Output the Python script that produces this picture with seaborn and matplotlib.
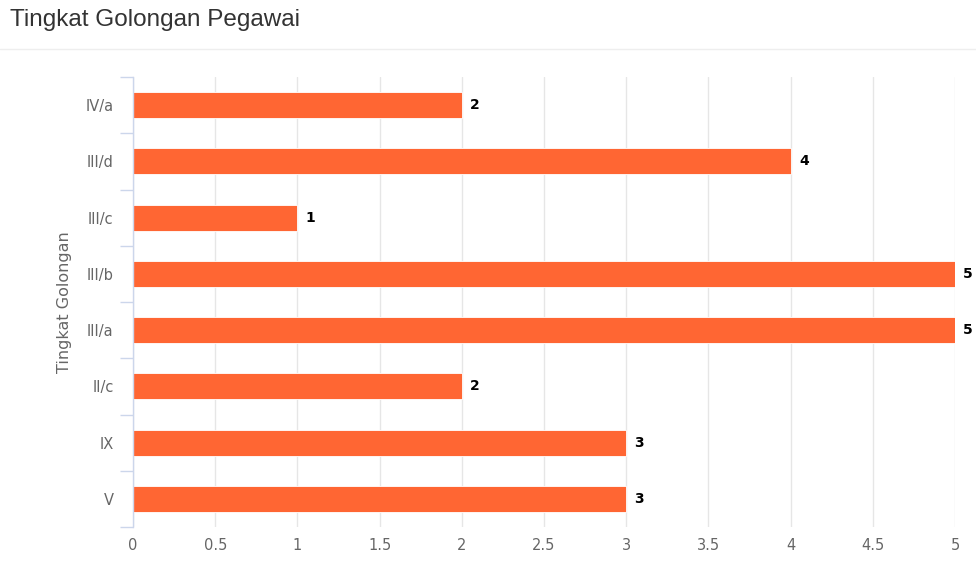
import matplotlib
matplotlib.use("Agg")
import matplotlib.pyplot as plt
import seaborn as sns
import pandas as pd
import numpy as np

# data
golongan = ["IV/a", "III/d", "III/c", "III/b", "III/a", "II/c", "IX", "V"]
jumlah = [2, 4, 1, 5, 5, 2, 3, 3]

df = pd.DataFrame({"Golongan": golongan, "Jumlah": jumlah})

sns.set_style("white")
plt.rcParams["font.family"] = ["DejaVu Sans"]

fig = plt.figure(figsize=(9.76, 5.88), dpi=100)
ax = fig.add_axes([133 / 976, 1 - 527 / 588, (955 - 133) / 976, (527 - 77) / 588])

sns.barplot(data=df, x="Jumlah", y="Golongan", orient="h", color="#ff6633",
            saturation=1, width=0.46, ax=ax, edgecolor="white", linewidth=0.6)

ax.set_xlim(0, 5)
ax.set_ylim(len(golongan) - 0.5, -0.5)
ax.set_xticks(np.arange(0, 5.01, 0.5))
ax.set_xticklabels(["0", "0.5", "1", "1.5", "2", "2.5", "3", "3.5", "4", "4.5", "5"])
ax.grid(axis="x", color="#e6e6e6", linewidth=1)
ax.set_axisbelow(True)

# ticks between categories like highcharts
ax.set_yticks(np.arange(-0.5, len(golongan), 1), minor=True)
ax.tick_params(axis="y", which="minor", left=True, length=9.5, color="#ccd6eb", width=1)
ax.tick_params(axis="y", which="major", left=False, length=0, pad=14, labelsize=10.5,
               labelcolor="#666666")
ax.tick_params(axis="x", length=0, pad=8, labelsize=10.5, labelcolor="#666666")

for s in ["top", "right", "bottom"]:
    ax.spines[s].set_visible(False)
ax.spines["left"].set_color("#ccd6eb")
ax.spines["left"].set_linewidth(1)

ax.set_xlabel("")
ax.set_ylabel("Tingkat Golongan", fontsize=11.5, color="#666666", labelpad=10)

for i, v in enumerate(jumlah):
    ax.annotate(str(v), (v, i), xytext=(6, 0), textcoords="offset points",
                va="center", ha="left", fontsize=10, fontweight="bold",
                color="black", annotation_clip=False)

fig.text(10 / 976, 1 - 20 / 588, "Tingkat Golongan Pegawai", fontsize=17.5,
         color="#333333", family="Liberation Sans", va="center", ha="left")
fig.add_artist(plt.Line2D([0, 1], [1 - 49 / 588, 1 - 49 / 588], color="#eeeeee",
                          linewidth=1, transform=fig.transFigure))

fig.savefig("out.png", dpi=100)
